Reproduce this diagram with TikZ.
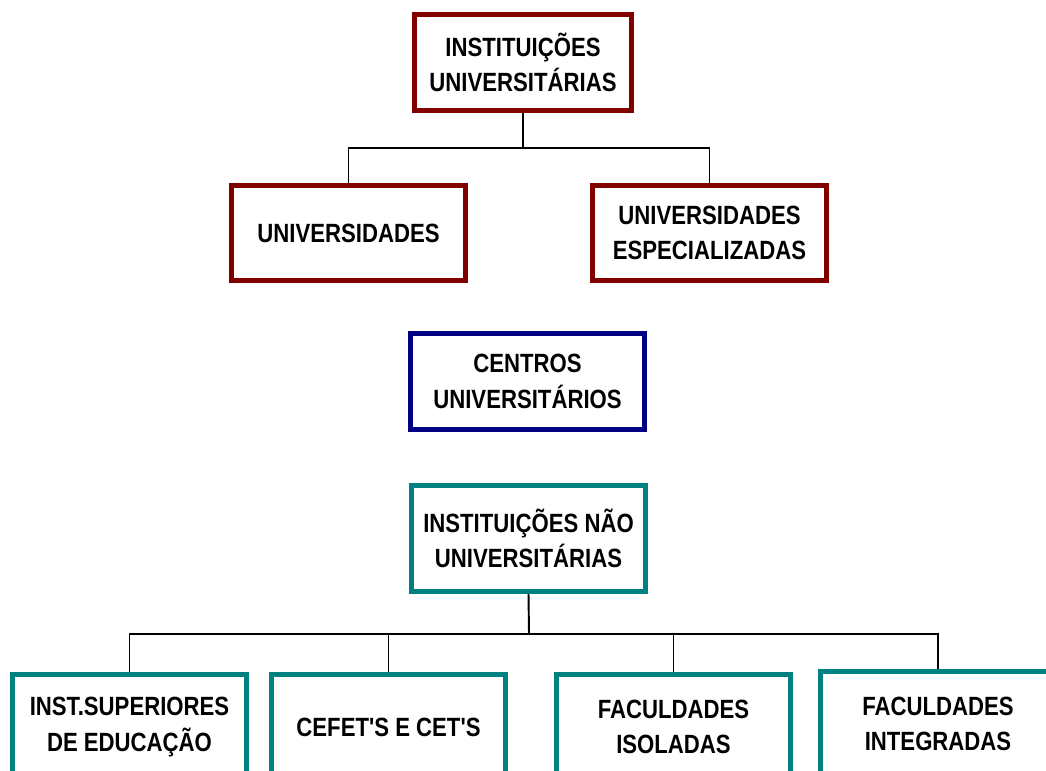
\documentclass[tikz,border=0pt]{standalone}
\usepackage{fontspec}
\newfontfamily\boxfont{Liberation Sans}[FakeStretch=0.84]
\usetikzlibrary{positioning, calc}

\definecolor{univred}{RGB}{128,0,0}
\definecolor{centronavy}{RGB}{0,0,128}
\definecolor{naoteal}{RGB}{0,128,128}

\begin{document}
\begin{tikzpicture}[x=0.01cm, y=-0.01cm]
    % --- Style Definitions ---
    \tikzset{
        % Common box look
        org box/.style={
            draw,
            line width=1.45pt,
            fill=white,
            inner sep=0pt,
            minimum width=2.34cm,
            minimum height=0.95cm,
            align=center,
            text=black,
            font=\boxfont\bfseries\fontsize{7.5}{10}\selectfont
        },
        % University institutions
        univ box/.style={org box, draw=univred},
        % University centres
        centro box/.style={org box, draw=centronavy},
        % Non-university institutions
        nao box/.style={org box, draw=naoteal},
        % Bottom row runs off the page
        low box/.style={nao box, minimum height=1.05cm},
        % Tree connectors
        tree line/.style={
            draw=black,
            line width=0.55pt
        }
    }

    % --- 0. Canvas ---
    \useasboundingbox (0,0) rectangle (1046,770);
    \clip (0,0) rectangle (1046,770);

    % --- 1. University institutions ---
    \node[univ box, minimum width=2.17cm, minimum height=0.96cm] (iu) at (523,62.5)
        {INSTITUIÇÕES\\UNIVERSITÁRIAS};
    \node[univ box] (univ) at (348.5,233) {UNIVERSIDADES};
    \node[univ box] (espec) at (709.5,233) {UNIVERSIDADES\\ESPECIALIZADAS};

    % --- 2. University centres ---
    \node[centro box, minimum height=0.96cm] (centros) at (527.5,381.5)
        {CENTROS\\UNIVERSITÁRIOS};

    % --- 3. Non-university institutions ---
    \node[nao box, minimum height=1.06cm] (inu) at (528.5,538.5)
        {INSTITUIÇÕES NÃO\\UNIVERSITÁRIAS};
    \node[low box] (isup) at (129.5,727) {INST.SUPERIORES\\DE EDUCAÇÃO};
    \node[low box] (cefet) at (388.5,727) {CEFET'S E CET'S};
    \node[low box] (isol) at (673.5,727) {FACULDADES\\ISOLADAS};
    \node[low box] (integ) at (938,724) {FACULDADES\\INTEGRADAS};

    % --- 4. Connectors ---
    \coordinate (bar1) at (523,148);
    \draw[tree line] (iu.south) -- (bar1);
    \draw[tree line] (univ.north) |- (bar1);
    \draw[tree line] (espec.north) |- (bar1);

    \coordinate (bar2) at (529,634);
    \draw[tree line] (inu.south) -- (bar2);
    \draw[tree line] (isup.north) |- (bar2);
    \draw[tree line] (cefet.north) |- (bar2);
    \draw[tree line] (isol.north) |- (bar2);
    \draw[tree line] (integ.north) |- (bar2);

\end{tikzpicture}
\end{document}
